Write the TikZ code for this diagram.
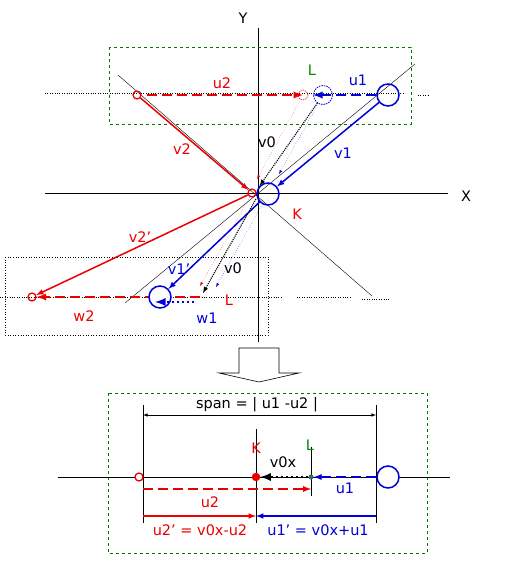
\documentclass[tikz,border=0pt]{standalone}
\usepackage{fontspec}
\setmainfont{DejaVu Sans}
\usetikzlibrary{arrows,positioning,calc,shapes}
\definecolor{dgreen}{RGB}{0,120,0}
\definecolor{lgreen}{RGB}{0,140,0}
\definecolor{tealdot}{RGB}{40,110,110}
\definecolor{myred}{RGB}{235,0,0}
\definecolor{myblue}{RGB}{0,0,215}

\tikzset{
  lbl/.style={font=\fontsize{14.5}{17}\selectfont, inner sep=0pt},
  bigball/.style={circle, draw=myblue, line width=1.5pt, minimum size=22pt, inner sep=0pt},
  smallball/.style={circle, draw=myred, line width=1.3pt, minimum size=8pt, inner sep=0pt},
  vec/.style={-latex, line width=1.5pt},
  dvec/.style={-latex, line width=2.2pt, dash pattern=on 10pt off 5pt},
  pvec/.style={-latex, line width=2.6pt, dash pattern=on 2.5pt off 2.5pt},
  tvec/.style={-latex, line width=1.1pt, densely dotted},
  guide/.style={line width=0.6pt},
  frame/.style={dashed, dgreen, line width=0.7pt},
}

\begin{document}
\begin{tikzpicture}[x=1pt,y=-1pt]
  \useasboundingbox (0,0) rectangle (507,580);

  %axes
  \coordinate (xl) at (45,193);
  \coordinate (xr) at (448,193);
  \coordinate (yt) at (258,28);
  \coordinate (yb) at (258,342);
  \draw[guide] (xl) -- (xr);
  \draw[guide] (yt) -- (yb);
  \node[lbl] (xlab) at (466,196) {X};
  \node[lbl] (ylab) at (243,18) {Y};

  %frames
  \draw[frame] (109,47) rectangle (411,124);
  \draw[dotted, line width=0.6pt] (5,257) rectangle (268,335);
  \draw[frame] (108,393) rectangle (427,553);

  %diagonals and level lines
  \draw[line width=0.4pt] (118,75) -- (372,296);
  \draw[line width=0.4pt] (415,64) -- (125,303);
  \draw[dotted] (45,93) -- (405,93);
  \draw[dotted] (418,95) -- (428,95);
  \draw[dotted] (0,297) -- (283,297);
  \draw[dotted] (297,297) -- (350,297);
  \draw[dotted] (362,299) -- (390,299);

  %before collision
  \node[smallball] (r1) at (137,95) {};
  \node[bigball] (b1) at (388,95) {};
  \node[bigball, densely dotted, line width=0.8pt, minimum size=19pt] (lb) at (323,95) {};
  \node[smallball, densely dotted, line width=0.6pt, minimum size=10pt] (lr) at (303,95) {};
  \node[smallball] (kr) at (252,193) {};
  \node[bigball] (kb) at (268,194) {};
  \coordinate (rtip) at (257,179);
  \coordinate (btip) at (279,174);

  \draw[dvec, myred, shorten <=5pt] (r1) -- (lr.center);
  \draw[dvec, myblue] (b1) -- (lb.west);
  \draw[vec, myblue] (b1) -- (kb);
  \draw[vec, myred] (r1) -- (kr);
  \draw[tvec] (lb) -- (kb.north west);
  \draw[myred, dotted, -latex] (lr) -- (rtip);
  \draw[myblue, dotted, -latex] (lb) -- (btip);

  \node[lbl, myred] at (222,83) {u2};
  \node[lbl, myblue] at (358,80) {u1};
  \node[lbl, lgreen] at (312,70) {L};
  \node[lbl, myred] at (182,149) {v2};
  \node[lbl] at (267,142) {v0};
  \node[lbl, myblue] at (343,153) {v1};
  \node[lbl, myred] at (297,214) {K};

  %after collision
  \node[smallball] (r2) at (32,297) {};
  \coordinate (w2s) at (200,297);
  \draw[dvec, myred] (w2s) -- (r2);
  \node[bigball, fill=white] (b2) at (160,297) {};
  \coordinate (o) at (256,199);
  \coordinate (l2) at (203,293);
  \coordinate (rtip2) at (200,286);
  \coordinate (btip2) at (216,287);
  \coordinate (w1s) at (194,302);
  \coordinate (w1e) at (155,302);

  \draw[vec, myred] (kr) -- (r2);
  \draw[vec, myblue] (kb) -- (b2);
  \draw[tvec] (o) -- (l2);
  \draw[myred, dotted, -latex] (kr) -- (rtip2);
  \draw[myblue, dotted, -latex] (kb) -- (btip2);
  \draw[pvec, myblue] (w1s) -- (w1e);

  \node[lbl, myred] at (140,237) {v2’};
  \node[lbl, myblue] at (179,269) {v1’};
  \node[lbl] at (233,268) {v0};
  \node[lbl, myred] at (229,300) {L};
  \node[lbl, myred] at (84,316) {w2};
  \node[lbl, myblue] at (207,318) {w1};

  %block arrow
  \draw[line width=0.6pt] (239,348) -- (279,348) -- (279,373) -- (299,373)
    -- (259,382) -- (219,373) -- (239,373) -- cycle;

  %centre of mass frame
  \coordinate (hl) at (58,477);
  \coordinate (hr) at (450,477);
  \draw[guide] (hl) -- (hr);
  \draw[guide] (143,405) -- (143,523);
  \draw[guide] (376,405) -- (376,523);
  \draw[guide] (256,429) -- (256,523);
  \draw[guide] (311,447) -- (311,496);

  \node[smallball, fill=white] (r3) at (139,477) {};
  \node[circle, fill=myred, draw=myred, minimum size=8pt, inner sep=0pt] (k3) at (256,477) {};
  \node[circle, fill=tealdot, minimum size=5pt, inner sep=0pt] (l3) at (311,477) {};
  \node[bigball, fill=white] (b3) at (388,477) {};

  \coordinate (sl) at (143,415);
  \coordinate (sr) at (376,415);
  \coordinate (u2s) at (143,489);
  \coordinate (u2e) at (311,489);
  \coordinate (pl) at (143,516);
  \coordinate (pm) at (256,516);
  \coordinate (pr) at (376,516);

  \draw[latex-latex, line width=0.6pt] (sl) -- (sr);
  \draw[dvec, myblue, line width=1.7pt] (b3) -- (l3);
  \draw[pvec] (l3) -- (k3);
  \draw[dvec, myred, line width=1.7pt] (u2s) -- (u2e);
  \draw[vec, myred] (pl) -- (pm);
  \draw[vec, myblue] (pr) -- (pm);

  \node[lbl] at (257,405) {span = | u1 -u2 |};
  \node[lbl, myred] at (256,448) {K};
  \node[lbl, lgreen] at (310,445) {L};
  \node[lbl] at (283,462) {v0x};
  \node[lbl, myblue] at (345,488) {u1};
  \node[lbl, myred] at (210,502) {u2};
  \node[lbl, myred] at (200,530) {u2’ = v0x-u2};
  \node[lbl, myblue] at (318,530) {u1’ = v0x+u1};
\end{tikzpicture}
\end{document}
